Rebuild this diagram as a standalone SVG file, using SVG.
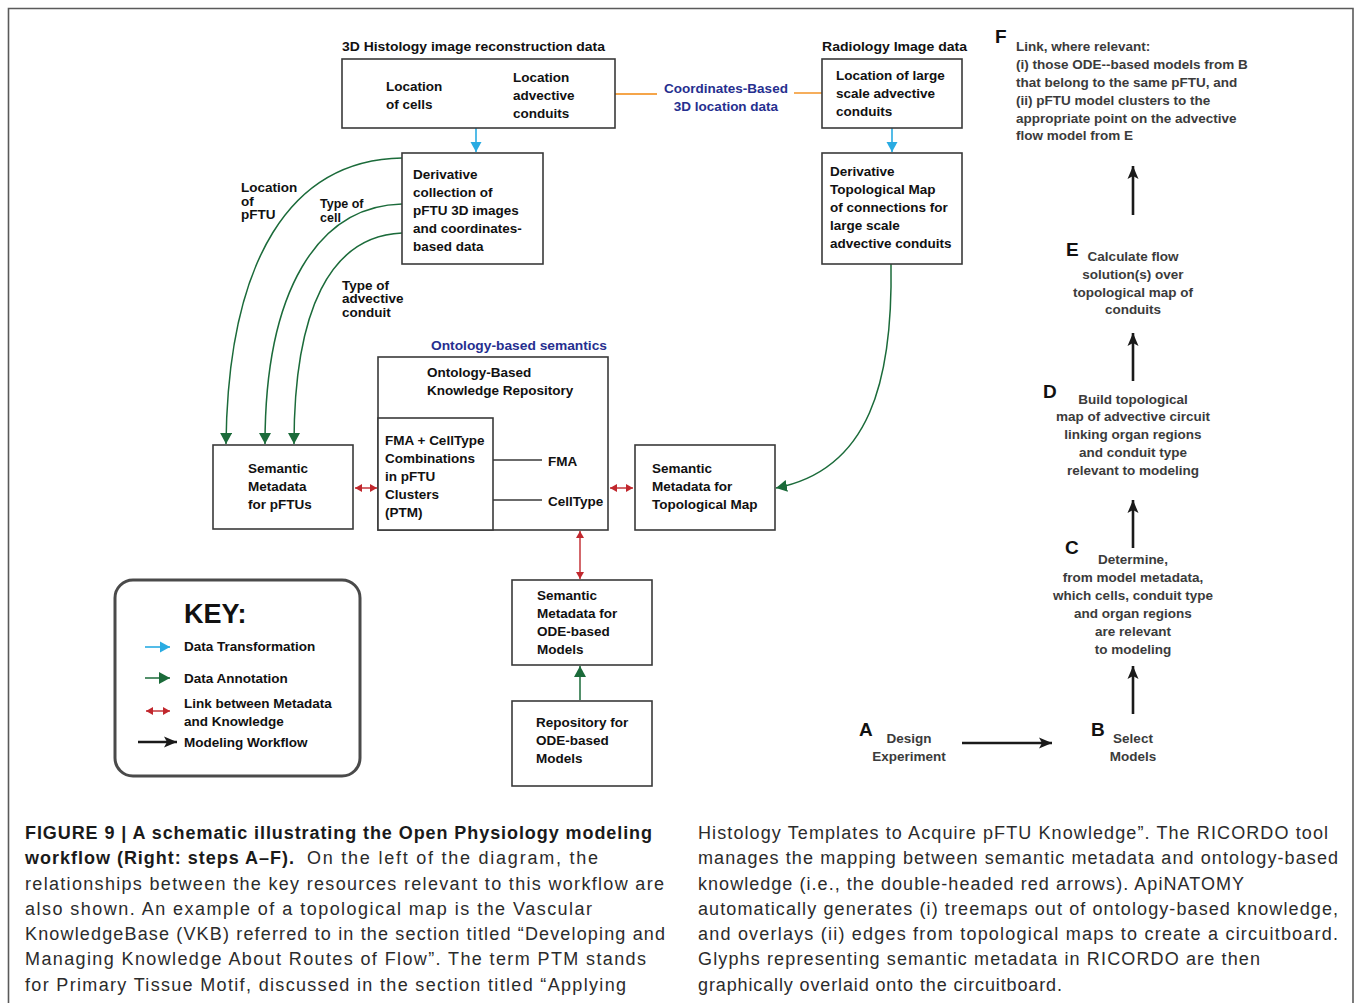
<svg xmlns="http://www.w3.org/2000/svg" width="1355" height="1003" viewBox="0 0 1355 1003">
<style>
.bx{fill:#fff;stroke:#3a3a3a;stroke-width:1.6}
.t{font-family:"Liberation Sans",Arial,sans-serif;font-weight:bold;font-size:13.5px;fill:#111}
.s{font-size:12.5px}
.w{font-family:"Liberation Sans",Arial,sans-serif;font-weight:bold;font-size:13.5px;fill:#3b3b3b}
.wc{text-anchor:middle}
.ttl{font-family:"Liberation Sans",Arial,sans-serif;font-weight:bold;font-size:13px;fill:#111}
.blu{font-family:"Liberation Sans",Arial,sans-serif;font-weight:bold;font-size:13.5px;fill:#262f8f}
.L{font-family:"Liberation Sans",Arial,sans-serif;font-weight:bold;font-size:19px;fill:#111}
.cap{font-family:"Liberation Sans",Arial,sans-serif;font-size:18px;fill:#2b2b2b}
.capb{font-family:"Liberation Sans",Arial,sans-serif;font-size:18px;font-weight:bold;fill:#1a1a1a}
.bl{stroke:#29abe2;stroke-width:1.6;fill:none}
.gr{stroke:#1b6b3a;stroke-width:1.5;fill:none}
.rd{stroke:#c1272d;stroke-width:1.4;fill:none}
.bk{stroke:#1a1a1a;stroke-width:2.6;fill:none}
.or{stroke:#f5a54a;stroke-width:1.8;fill:none}
.ln{stroke:#3a3a3a;stroke-width:1.5}
</style>
<defs>
<marker id="mBlue" markerUnits="userSpaceOnUse" markerWidth="12" markerHeight="12" refX="10" refY="6" orient="auto"><path d="M0,0.5 L10,6 L0,11.5 z" fill="#29abe2"/></marker>
<marker id="mGreen" markerUnits="userSpaceOnUse" markerWidth="12" markerHeight="12" refX="11" refY="6" orient="auto"><path d="M0,0 L11,6 L0,12 z" fill="#1b6b3a"/></marker>
<marker id="mRed" markerUnits="userSpaceOnUse" markerWidth="9" markerHeight="9" refX="7" refY="4.5" orient="auto-start-reverse"><path d="M0,0.5 L7,4.5 L0,8.5 z" fill="#c1272d"/></marker>
<marker id="mBlack" markerUnits="userSpaceOnUse" markerWidth="14" markerHeight="12" refX="13" refY="6" orient="auto"><path d="M0,0.5 L13,6 L0,11.5 L3,6 z" fill="#1a1a1a"/></marker>
</defs>
<rect width="1355" height="1003" fill="#fff"/>
<path d="M8.5,1003 V8.5 H1353 V1003" fill="none" stroke="#5a5a5a" stroke-width="1.6"/>

<g id="connectors">
<line class="or" x1="615" y1="94" x2="657" y2="94"/>
<line class="or" x1="794" y1="93" x2="822" y2="93"/>
<line class="bl" x1="476" y1="128" x2="476" y2="152" marker-end="url(#mBlue)"/>
<line class="bl" x1="892" y1="128" x2="892" y2="152" marker-end="url(#mBlue)"/>
<path class="gr" d="M402,158 C290,160 228,260 226,444" marker-end="url(#mGreen)"/>
<path class="gr" d="M402,204 C318,206 265,290 265,444" marker-end="url(#mGreen)"/>
<path class="gr" d="M402,233 C330,236 294,310 294,444" marker-end="url(#mGreen)"/>
<path class="gr" d="M891,264 C893,380 870,470 776,488" marker-end="url(#mGreen)"/>
<line class="rd" x1="355" y1="488" x2="377" y2="488" marker-start="url(#mRed)" marker-end="url(#mRed)"/>
<line class="rd" x1="610" y1="488" x2="633" y2="488" marker-start="url(#mRed)" marker-end="url(#mRed)"/>
<line class="rd" x1="580" y1="531" x2="580" y2="579" marker-start="url(#mRed)" marker-end="url(#mRed)"/>
<line class="gr" x1="580" y1="700" x2="580" y2="666" marker-end="url(#mGreen)"/>
<line class="bk" x1="962" y1="743" x2="1052" y2="743" marker-end="url(#mBlack)"/>
<line class="bk" x1="1133" y1="714" x2="1133" y2="666" marker-end="url(#mBlack)"/>
<line class="bk" x1="1133" y1="548" x2="1133" y2="500" marker-end="url(#mBlack)"/>
<line class="bk" x1="1133" y1="381" x2="1133" y2="333" marker-end="url(#mBlack)"/>
<line class="bk" x1="1133" y1="215" x2="1133" y2="166" marker-end="url(#mBlack)"/>
</g>

<g id="labels">
<text class="ttl" x="342" y="51" textLength="263" lengthAdjust="spacingAndGlyphs">3D Histology image reconstruction data</text>
<text class="ttl" x="822" y="51" textLength="145" lengthAdjust="spacingAndGlyphs">Radiology Image data</text>
<text class="blu" x="726" y="93" text-anchor="middle">Coordinates-Based</text>
<text class="blu" x="726" y="111" text-anchor="middle">3D location data</text>
<text class="blu" x="431" y="350" textLength="176" lengthAdjust="spacingAndGlyphs">Ontology-based semantics</text>
<text class="t" x="241" y="192">Location</text>
<text class="t" x="241" y="206">of</text>
<text class="t" x="241" y="219">pFTU</text>
<text class="t s" x="320" y="208">Type of</text>
<text class="t s" x="320" y="222">cell</text>
<text class="t" x="342" y="290">Type of</text>
<text class="t" x="342" y="303">advective</text>
<text class="t" x="342" y="317">conduit</text>
</g>

<g id="node-histology">
<rect class="bx" x="342" y="59" width="273" height="69"/>
<text class="t" x="386" y="91">Location</text>
<text class="t" x="386" y="109">of cells</text>
<text class="t" x="513" y="82">Location</text>
<text class="t" x="513" y="100">advective</text>
<text class="t" x="513" y="118">conduits</text>
</g>

<g id="node-radiology">
<rect class="bx" x="822" y="59" width="140" height="69"/>
<text class="t" x="836" y="80">Location of large</text>
<text class="t" x="836" y="98">scale advective</text>
<text class="t" x="836" y="116">conduits</text>
</g>

<g id="node-derivative-pftu">
<rect class="bx" x="402" y="153" width="141" height="111"/>
<text class="t" x="413" y="179">Derivative</text>
<text class="t" x="413" y="197">collection of</text>
<text class="t" x="413" y="215">pFTU 3D images</text>
<text class="t" x="413" y="233">and coordinates-</text>
<text class="t" x="413" y="251">based data</text>
</g>

<g id="node-derivative-topo">
<rect class="bx" x="822" y="153" width="140" height="111"/>
<text class="t" x="830" y="176">Derivative</text>
<text class="t" x="830" y="194">Topological Map</text>
<text class="t" x="830" y="212">of connections for</text>
<text class="t" x="830" y="230">large scale</text>
<text class="t" x="830" y="248">advective conduits</text>
</g>

<g id="node-sem-pftus">
<rect class="bx" x="213" y="445" width="140" height="84"/>
<text class="t" x="248" y="473">Semantic</text>
<text class="t" x="248" y="491">Metadata</text>
<text class="t" x="248" y="509">for pFTUs</text>
</g>

<g id="node-ontology">
<rect class="bx" x="378" y="357" width="230" height="173"/>
<text class="t" x="427" y="377">Ontology-Based</text>
<text class="t" x="427" y="395">Knowledge Repository</text>
<rect class="bx" x="378" y="418" width="115" height="112"/>
<text class="t" x="385" y="445">FMA + CellType</text>
<text class="t" x="385" y="463">Combinations</text>
<text class="t" x="385" y="481">in pFTU</text>
<text class="t" x="385" y="499">Clusters</text>
<text class="t" x="385" y="517">(PTM)</text>
<line class="ln" x1="493" y1="460" x2="542" y2="460"/>
<line class="ln" x1="493" y1="500" x2="542" y2="500"/>
<text class="t" x="548" y="466">FMA</text>
<text class="t" x="548" y="506">CellType</text>
</g>

<g id="node-sem-topo">
<rect class="bx" x="635" y="445" width="140" height="85"/>
<text class="t" x="652" y="473">Semantic</text>
<text class="t" x="652" y="491">Metadata for</text>
<text class="t" x="652" y="509">Topological Map</text>
</g>

<g id="node-sem-ode">
<rect class="bx" x="512" y="580" width="140" height="85"/>
<text class="t" x="537" y="600">Semantic</text>
<text class="t" x="537" y="618">Metadata for</text>
<text class="t" x="537" y="636">ODE-based</text>
<text class="t" x="537" y="654">Models</text>
</g>

<g id="node-repo-ode">
<rect class="bx" x="512" y="701" width="140" height="85"/>
<text class="t" x="536" y="727">Repository for</text>
<text class="t" x="536" y="745">ODE-based</text>
<text class="t" x="536" y="763">Models</text>
</g>

<g id="key">
<rect x="115" y="580" width="245" height="196" rx="18" fill="#fff" stroke="#4a4a4a" stroke-width="3"/>
<text class="t" x="184" y="623" style="font-size:27px">KEY:</text>
<line class="bl" x1="145" y1="647" x2="170" y2="647" marker-end="url(#mBlue)"/>
<line class="gr" x1="145" y1="678" x2="170" y2="678" marker-end="url(#mGreen)"/>
<line class="rd" x1="146" y1="711" x2="170" y2="711" marker-start="url(#mRed)" marker-end="url(#mRed)"/>
<line class="bk" x1="138" y1="742" x2="177" y2="742" marker-end="url(#mBlack)"/>
<text class="t" x="184" y="651">Data Transformation</text>
<text class="t" x="184" y="683">Data Annotation</text>
<text class="t" x="184" y="708">Link between Metadata</text>
<text class="t" x="184" y="726">and Knowledge</text>
<text class="t" x="184" y="747">Modeling Workflow</text>
</g>

<g id="step-A">
<text class="L" x="859" y="736">A</text>
<text class="w wc" x="909" y="743">Design</text>
<text class="w wc" x="909" y="761">Experiment</text>
</g>
<g id="step-B">
<text class="L" x="1091" y="736">B</text>
<text class="w wc" x="1133" y="743">Select</text>
<text class="w wc" x="1133" y="761">Models</text>
</g>
<g id="step-C">
<text class="L" x="1065" y="554">C</text>
<text class="w wc" x="1133" y="564">Determine,</text>
<text class="w wc" x="1133" y="582">from model metadata,</text>
<text class="w wc" x="1133" y="600">which cells, conduit type</text>
<text class="w wc" x="1133" y="618">and organ regions</text>
<text class="w wc" x="1133" y="636">are relevant</text>
<text class="w wc" x="1133" y="654">to modeling</text>
</g>
<g id="step-D">
<text class="L" x="1043" y="398">D</text>
<text class="w wc" x="1133" y="404">Build topological</text>
<text class="w wc" x="1133" y="421">map of advective circuit</text>
<text class="w wc" x="1133" y="439">linking organ regions</text>
<text class="w wc" x="1133" y="457">and conduit type</text>
<text class="w wc" x="1133" y="475">relevant to modeling</text>
</g>
<g id="step-E">
<text class="L" x="1066" y="256">E</text>
<text class="w wc" x="1133" y="261">Calculate flow</text>
<text class="w wc" x="1133" y="279">solution(s) over</text>
<text class="w wc" x="1133" y="297">topological map of</text>
<text class="w wc" x="1133" y="314">conduits</text>
</g>
<g id="step-F">
<text class="L" x="995" y="43">F</text>
<text class="w" x="1016" y="51">Link, where relevant:</text>
<text class="w" x="1016" y="69">(i) those ODE--based models from B</text>
<text class="w" x="1016" y="87">that belong to the same pFTU, and</text>
<text class="w" x="1016" y="105">(ii) pFTU model clusters to the</text>
<text class="w" x="1016" y="123">appropriate point on the advective</text>
<text class="w" x="1016" y="140">flow model from E</text>
</g>

<g id="caption">
<text class="capb" x="25" y="839" textLength="627" lengthAdjust="spacing">FIGURE 9 | A schematic illustrating the Open Physiology modeling</text>
<text class="capb" x="25" y="864" textLength="269" lengthAdjust="spacing">workflow (Right: steps A–F).</text>
<text class="cap" x="307" y="864" textLength="291" lengthAdjust="spacing">On the left of the diagram, the</text>
<text class="cap" x="25" y="890" textLength="639" lengthAdjust="spacing">relationships between the key resources relevant to this workflow are</text>
<text class="cap" x="25" y="915" textLength="567" lengthAdjust="spacing">also shown. An example of a topological map is the Vascular</text>
<text class="cap" x="25" y="940" textLength="640" lengthAdjust="spacing">KnowledgeBase (VKB) referred to in the section titled “Developing and</text>
<text class="cap" x="25" y="965" textLength="621" lengthAdjust="spacing">Managing Knowledge About Routes of Flow”. The term PTM stands</text>
<text class="cap" x="25" y="991" textLength="601" lengthAdjust="spacing">for Primary Tissue Motif, discussed in the section titled “Applying</text>
<text class="cap" x="698" y="839" textLength="630" lengthAdjust="spacing">Histology Templates to Acquire pFTU Knowledge”. The RICORDO tool</text>
<text class="cap" x="698" y="864" textLength="640" lengthAdjust="spacing">manages the mapping between semantic metadata and ontology-based</text>
<text class="cap" x="698" y="890" textLength="546" lengthAdjust="spacing">knowledge (i.e., the double-headed red arrows). ApiNATOMY</text>
<text class="cap" x="698" y="915" textLength="640" lengthAdjust="spacing">automatically generates (i) treemaps out of ontology-based knowledge,</text>
<text class="cap" x="698" y="940" textLength="640" lengthAdjust="spacing">and overlays (ii) edges from topological maps to create a circuitboard.</text>
<text class="cap" x="698" y="965" textLength="562" lengthAdjust="spacing">Glyphs representing semantic metadata in RICORDO are then</text>
<text class="cap" x="698" y="991" textLength="364" lengthAdjust="spacing">graphically overlaid onto the circuitboard.</text>
</g>
</svg>
